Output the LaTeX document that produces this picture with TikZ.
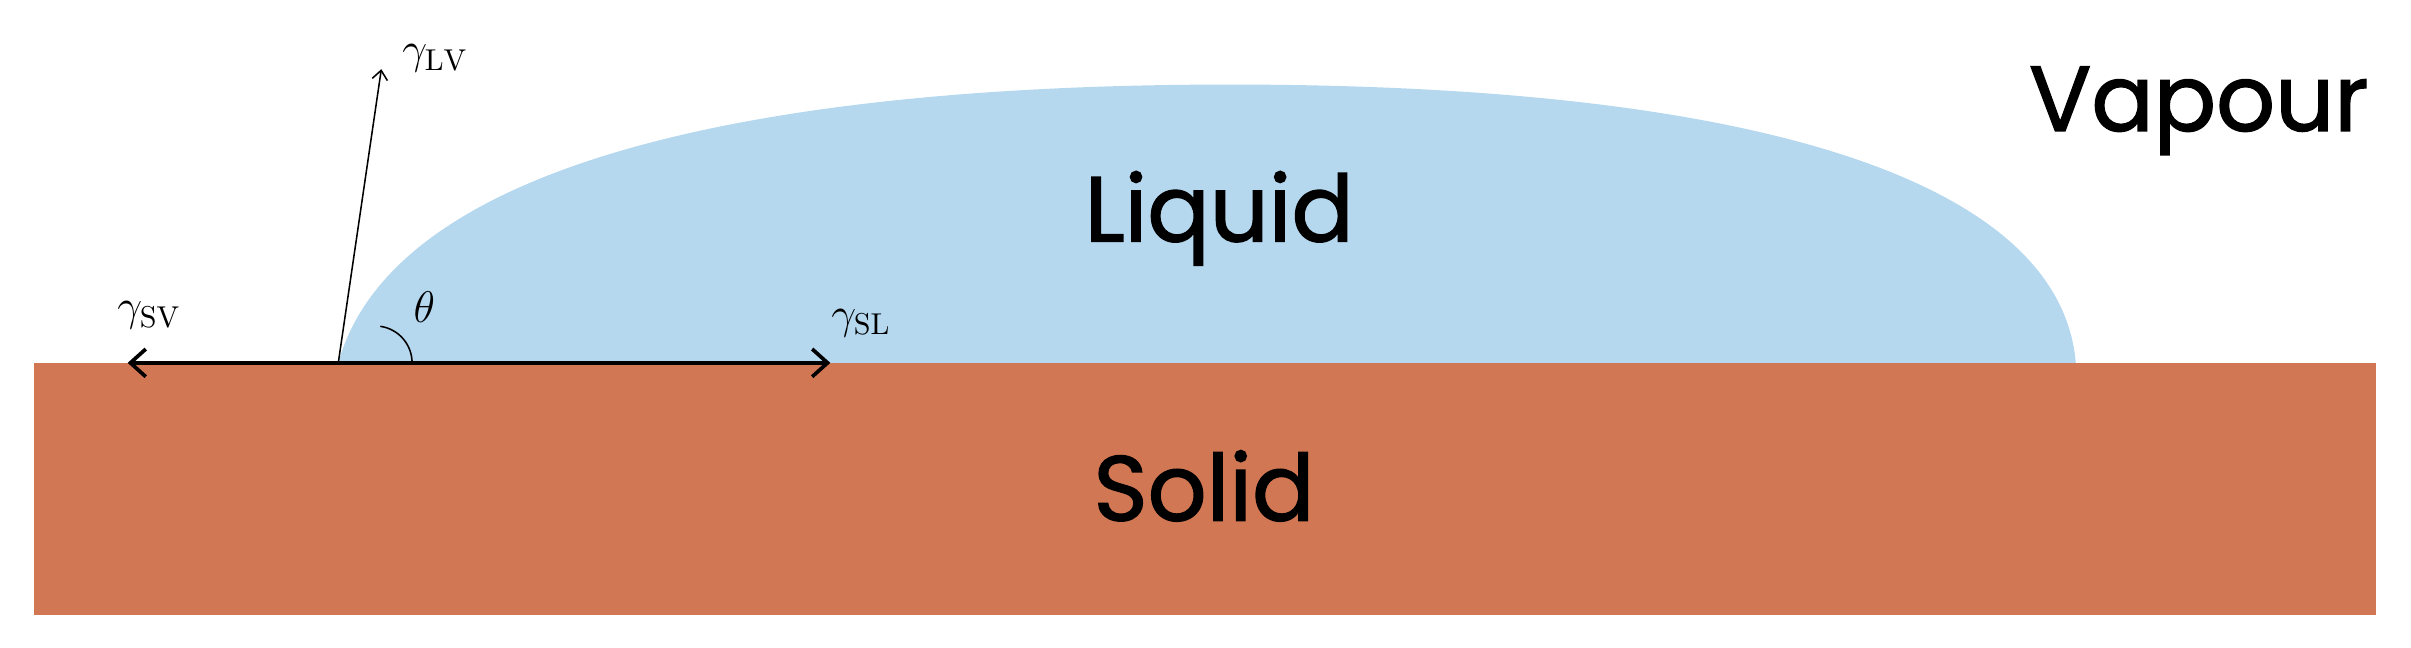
\documentclass[tikz,border=0pt]{standalone}
\usepackage{fontspec}
\newfontfamily\pop{Poppins}[FakeBold=1.5]
\usetikzlibrary{arrows.meta}
\definecolor{liq}{HTML}{B5D8EF}
\definecolor{sol}{HTML}{D27753}
\begin{document}
\begin{tikzpicture}[x=0.5pt,y=-0.5pt,
  big/.style={font=\pop\fontsize{30}{34}\selectfont},
  lab/.style={font=\fontsize{14}{16}\selectfont},
  vec/.style={-{Straight Barb[length=5pt,width=9pt]}}]
\useasboundingbox (0,0) rectangle (1568,421);
\fill[sol] (22,236) rectangle (1545,400);
\coordinate (c) at (220,236);
\fill[liq] (c) .. controls (255,110) and (480,55) .. (800,55)
  .. controls (1150,55) and (1340,120) .. (1350,236) -- cycle;
\coordinate (lv) at (248,45);
\coordinate (sv) at (83,236);
\coordinate (sl) at (540,236);
\draw[line width=0.5pt,-{Straight Barb[length=3pt,width=5pt]}] (c) -- (lv);
\draw[line width=1.2pt,vec] (c) -- (sv);
\draw[line width=1.2pt,vec] (c) -- (sl);
\draw[line width=0.5pt] ([xshift=24] c) arc[start angle=0,end angle=-82,radius=24];
\node[lab] (tlv) at (283,38) {$\gamma_{\mathrm{LV}}$};
\node[lab] (tsv) at (97,205) {$\gamma_{\mathrm{SV}}$};
\node[lab] (tsl) at (560,210) {$\gamma_{\mathrm{SL}}$};
\node[lab] (th) at (276,200) {$\theta$};
\node[big] (liquid) at (793,142) {Liquid};
\node[big] (solid) at (783,316) {Solid};
\node[big] (vapour) at (1430,72) {Vapour};
\end{tikzpicture}
\end{document}
